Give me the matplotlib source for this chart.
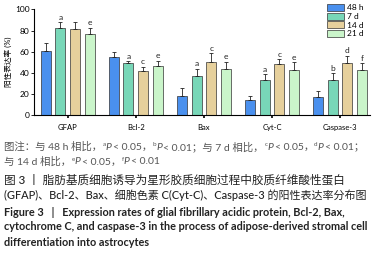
import matplotlib
matplotlib.use("Agg")
import matplotlib.pyplot as plt
import numpy as np
from matplotlib.patches import Patch

plt.rcParams['font.family'] = ['Lato', 'Noto Sans CJK SC']

categories = ["GFAP", "Bcl-2", "Bax", "Cyt-C", "Caspase-3"]
series_names = ["48 h", "7 d", "14 d", "21 d"]
means = {
    "48 h": [60.5, 55.2, 18.3, 14.2, 17.3],
    "7 d": [82.6, 48.9, 36.6, 33.1, 32.8],
    "14 d": [81.0, 41.6, 50.1, 48.0, 49.2],
    "21 d": [77.0, 46.6, 43.5, 42.3, 42.6],
}
errors = {
    "48 h": [7.9, 4.1, 7.0, 4.1, 5.4],
    "7 d": [5.1, 2.1, 7.2, 5.4, 6.7],
    "14 d": [6.7, 4.1, 8.3, 4.7, 6.9],
    "21 d": [5.6, 4.8, 6.9, 7.6, 6.3],
}
sig_letters = {
    "48 h": ["", "", "", "", ""],
    "7 d": ["a", "a", "a", "a", "b"],
    "14 d": ["", "c", "c", "c", "d"],
    "21 d": ["e", "e", "e", "e", "f"],
}
colors = ["#4a90ee", "#78d7b8", "#e6d09c", "#caf5ca"]

W, H = 378, 254
fig = plt.figure(figsize=(W / 100, H / 100), dpi=100)
ax = fig.add_axes([0.0907, 0.547, 0.979 - 0.0907, 0.963 - 0.547])

x = np.arange(len(categories))
step = 0.216
width = 0.147
for i, name in enumerate(series_names):
    pos = x + (i - 1.5) * step
    ax.bar(pos, means[name], width=width, color=colors[i], edgecolor="#333333",
           linewidth=0.5, zorder=2)
    ax.errorbar(pos, means[name], yerr=[np.zeros(len(categories)), errors[name]],
                fmt="none", ecolor="#222222", elinewidth=0.6, capsize=1.5,
                capthick=0.6, zorder=3)
    for p, m, e, s in zip(pos, means[name], errors[name], sig_letters[name]):
        if s:
            ax.text(p, m + e + 1.5, s, ha="center", va="bottom", fontsize=6,
                    color="#222222")

ax.set_xlim(-0.49, 4.44)
ax.set_ylim(0, 100)
ax.set_yticks([0, 20, 40, 60, 80, 100])
ax.set_xticks(x)
ax.set_xticklabels(categories, fontsize=5.5)
ax.tick_params(axis="y", labelsize=6, length=2.5, width=0.6, pad=1)
ax.tick_params(axis="x", length=2, width=1.2, pad=4.5)
ax.spines["top"].set_visible(False)
ax.spines["right"].set_visible(False)
ax.spines["left"].set_linewidth(0.8)
ax.spines["bottom"].set_linewidth(0.8)
ax.set_ylabel("阳性表达率 (%)", fontsize=5.5, labelpad=2)

handles = [Patch(facecolor=c, edgecolor="#333333", linewidth=0.5) for c in colors]
fig.legend(handles, series_names, loc="upper left", bbox_to_anchor=(0.855, 1.0),
           frameon=False, handlelength=2.0, handleheight=0.9,
           handletextpad=0.3, labelspacing=0.15, borderaxespad=0.1,
           prop={"size": 6})

renderer = fig.canvas.get_renderer()


def draw_runs(y_px, runs, fontsize, color):
    """runs: list of (text, kind, gap_px) ; kind in 'n', 'sup', 'it'."""
    xpx = 4.0
    y = 1 - y_px / H
    for txt, kind, gap in runs:
        kw = dict(fontsize=fontsize, color=color, va="center", ha="left")
        yy = y
        if kind == "sup":
            kw["fontsize"] = fontsize * 0.6
            yy = y + 2.5 / H
        elif kind == "it":
            kw["style"] = "italic"
        t = fig.text(xpx / W, yy, txt, **kw)
        bb = t.get_window_extent(renderer)
        xpx += bb.width + gap


gray = "#555555"
fs = 7.5
draw_runs(147, [
    ("图注：与 48 h 相比，", "n", 0.3), ("a", "sup", 0), ("P", "it", 1.5),
    ("< 0.05，", "n", 0.3), ("b", "sup", 0), ("P", "it", 1.5),
    ("< 0.01；与 7 d 相比，", "n", 0.3), ("c", "sup", 0), ("P", "it", 1.5),
    ("< 0.05，", "n", 0.3), ("d", "sup", 0), ("P", "it", 1.5),
    ("< 0.01；", "n", 0),
], fs, gray)
draw_runs(162, [
    ("与 14 d 相比，", "n", 0.3), ("e", "sup", 0), ("P", "it", 1.5),
    ("< 0.05，", "n", 0.3), ("f", "sup", 0), ("P", "it", 1.5),
    ("< 0.01", "n", 0),
], fs, gray)

fig.text(4 / W, 1 - 180 / H,
         "图 3 丨 脂肪基质细胞诱导为星形胶质细胞过程中胶质纤维酸性蛋白",
         fontsize=8.4, color="#222222", va="center", ha="left", fontweight="medium")
fig.text(4 / W, 1 - 195 / H,
         "(GFAP)、Bcl-2、Bax、细胞色素 C(Cyt-C)、Caspase-3 的阳性表达率分布图",
         fontsize=7.95, color="#222222", va="center", ha="left", fontweight="medium")
fs2 = 7.85
fig.text(4 / W, 1 - 212 / H,
         "Figure 3   |   Expression rates of glial fibrillary acidic protein, Bcl-2, Bax,",
         fontsize=fs2, color="#222222", va="center", ha="left", fontweight="bold")
fig.text(4 / W, 1 - 227 / H,
         "cytochrome C, and caspase-3 in the process of adipose-derived stromal cell",
         fontsize=fs2, color="#222222", va="center", ha="left", fontweight="bold")
fig.text(4 / W, 1 - 243 / H,
         "differentiation into astrocytes",
         fontsize=fs2, color="#222222", va="center", ha="left", fontweight="bold")

fig.savefig("out.png", dpi=100)
